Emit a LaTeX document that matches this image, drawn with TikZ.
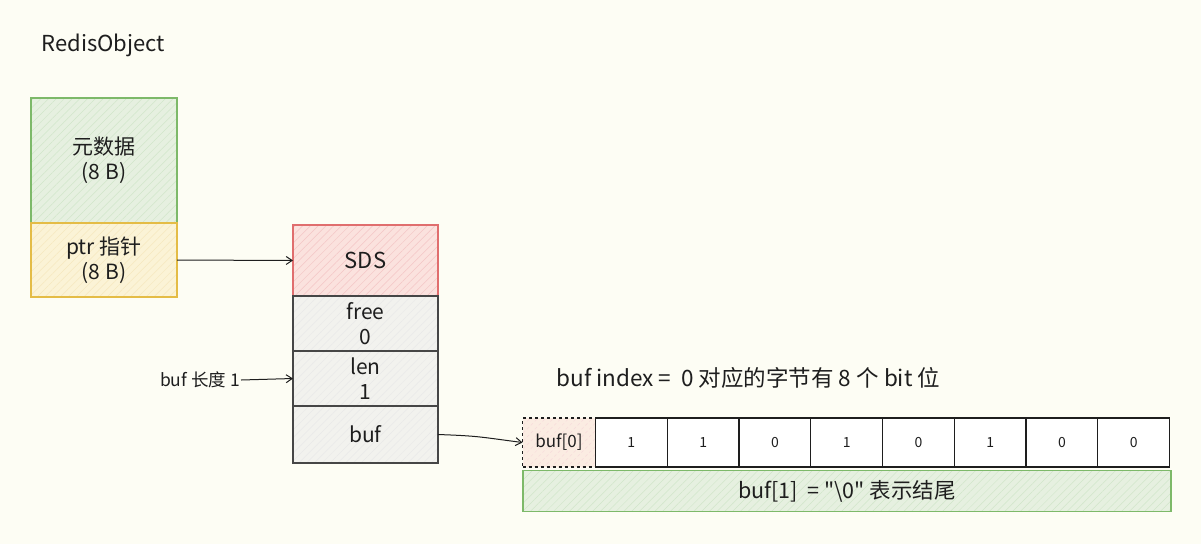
\documentclass[tikz,border=0pt]{standalone}
\usepackage{fontspec}
\setmainfont{Noto Sans CJK SC}[Ligatures=TeXOff]
\usetikzlibrary{arrows.meta,patterns.meta,positioning}
\definecolor{bgc}{RGB}{253,253,244}
\definecolor{ink}{RGB}{30,30,30}
\definecolor{gstroke}{RGB}{125,185,105}
\definecolor{gfill}{RGB}{230,240,224}
\definecolor{ystroke}{RGB}{228,188,70}
\definecolor{yfill}{RGB}{251,243,214}
\definecolor{rstroke}{RGB}{224,110,110}
\definecolor{rfill}{RGB}{251,226,222}
\definecolor{kstroke}{RGB}{70,70,70}
\definecolor{kfill}{RGB}{242,242,238}
\definecolor{pfill}{RGB}{251,236,226}
\newcommand{\fz}[2]{\fontsize{#1}{#2}\selectfont}
\tikzset{
  box/.style={rectangle, inner sep=0pt, outer sep=0pt, line width=1.1pt, align=center, text=ink, font=\fz{21}{25}},
  hatch/.style n args={2}{preaction={fill=#1}, pattern={Lines[angle=45,distance=5.5pt,line width=0.5pt]}, pattern color=#2},
  conn/.style={draw=ink, line width=1pt, -{Straight Barb[length=6pt,width=8pt]}},
  bitcell/.style={box, draw=ink, fill=white, minimum width=71.75pt, minimum height=49pt, font=\fz{14}{16}},
}
\begin{document}
\begin{tikzpicture}[x=1pt,y=-1pt]
\fill[bgc] (0,0) rectangle (1201,544);
\useasboundingbox (0,0) rectangle (1201,544);

\node[text=ink, font=\fz{22}{24}, anchor=west] (title) at (38,45) {RedisObject};

\node[box, draw=gstroke, hatch={gfill}{gstroke!35}, minimum width=146pt, minimum height=125pt] (meta) at (104,160.5) {元数据\\(8 B)};
\node[box, draw=ystroke, hatch={yfill}{ystroke!35}, minimum width=146pt, minimum height=74pt, below=0pt of meta] (ptr) {ptr 指针\\(8 B)};

\node[box, draw=rstroke, hatch={rfill}{rstroke!40}, minimum width=145pt, minimum height=71pt, font=\fz{22}{25}] (sds) at (365.5,260.5) {SDS};
\node[box, draw=kstroke, hatch={kfill}{kstroke!12}, minimum width=145pt, minimum height=55pt, below=0pt of sds] (free) {free\\0};
\node[box, draw=kstroke, hatch={kfill}{kstroke!12}, minimum width=145pt, minimum height=55pt, below=0pt of free] (len) {len\\1};
\node[box, draw=kstroke, hatch={kfill}{kstroke!12}, minimum width=145pt, minimum height=57pt, below=0pt of len] (buf) {buf};

\node[text=ink, font=\fz{17.5}{20}, anchor=east, inner sep=1pt] (buflen) at (241,380) {buf 长度 1};

\node[text=ink, font=\fz{22.5}{26}, anchor=west] (idx) at (553,378) {buf index =\ \ 0 对应的字节有 8 个 bit 位};

\node[box, draw=ink, dashed, line width=1.1pt, hatch={pfill}{rstroke!25}, minimum width=73pt, minimum height=49pt, font=\fz{17}{20}] (b0) at (559,442.5) {buf[0]};
\node[bitcell, right=0pt of b0] (c1) {1};
\node[bitcell, right=0pt of c1] (c2) {1};
\node[bitcell, right=0pt of c2] (c3) {0};
\node[bitcell, right=0pt of c3] (c4) {1};
\node[bitcell, right=0pt of c4] (c5) {0};
\node[bitcell, right=0pt of c5] (c6) {1};
\node[bitcell, right=0pt of c6] (c7) {0};
\node[bitcell, right=0pt of c7] (c8) {0};

\node[box, draw=gstroke, hatch={gfill}{gstroke!35}, minimum width=648pt, minimum height=41pt, font=\fz{21.5}{25}] (b1) at (847,491) {buf[1]\ \ = "\textbackslash 0" 表示结尾};

\draw[conn] (ptr.east) -- (sds.west);
\draw[conn] (buflen.east) -- (len.west);
\draw[conn] (buf.east) .. controls (480,436) and (480,437) .. (b0.west);
\end{tikzpicture}
\end{document}
